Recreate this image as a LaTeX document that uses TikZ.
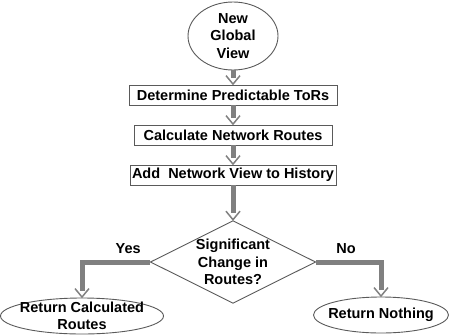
\documentclass[tikz,border=0pt]{standalone}
\usepackage{fontspec}
\setmainfont{Liberation Sans}
\usetikzlibrary{arrows.meta, positioning, shapes}
\definecolor{flowgray}{RGB}{128, 128, 128}
\definecolor{edgegray}{RGB}{90, 90, 90}

% open V head, the shaft stops at its back
\pgfdeclarearrow{
  name = Chevron,
  setup code = {
    \pgfarrowssettipend{0pt}
    \pgfarrowssetlineend{-7pt}
    \pgfarrowssetbackend{-9pt}
    \pgfarrowssetvisualbackend{-9pt}
    \pgfarrowshullpoint{0pt}{0pt}
    \pgfarrowshullpoint{-9pt}{7pt}
    \pgfarrowshullpoint{-9pt}{-7pt}
  },
  drawing code = {
    \pgfsetlinewidth{1.5pt}
    \pgfsetdash{}{0pt}
    \pgfpathmoveto{\pgfpoint{-9pt}{7pt}}
    \pgfpathlineto{\pgfpoint{-0.5pt}{0pt}}
    \pgfpathlineto{\pgfpoint{-9pt}{-7pt}}
    \pgfusepathqstroke
  }
}

\begin{document}
\begin{tikzpicture}[x=1pt, y=-1pt, node distance=40pt, font=\fontsize{14.5}{17.5}\selectfont\bfseries]
\tikzstyle{stepbox} = [rectangle, minimum height=20pt, inner sep=0pt, text centered, draw=edgegray, line width=0.8pt]
\tikzstyle{terminal} = [ellipse, inner sep=-20pt, draw=edgegray, line width=0.9pt, align=center]
\tikzstyle{decision} = [diamond, aspect=2, minimum width=158pt, minimum height=78pt, inner sep=0pt, draw=edgegray, line width=0.9pt, align=center]
\tikzstyle{arrow} = [line width=5pt, draw=flowgray, -Chevron]

\useasboundingbox (0,0) rectangle (449,335);

\node (view) [terminal, minimum width=90pt, minimum height=68pt] at (233,36) {New\\Global\\View};
\node (torbox) [stepbox, minimum width=208pt] at (233,95) {Determine Predictable ToRs};
\node (routebox) [stepbox, minimum width=198pt, below of=torbox] {Calculate Network Routes};
\node (histbox) [stepbox, minimum width=206pt, below of=routebox] {Add\ \ Network View to History};
\node (change) [decision, below of=histbox, node distance=87pt] {Significant\\Change in\\Routes?};
\node (retcalc) [terminal, minimum width=163pt, minimum height=36pt] at (82,316) {Return Calculated\\Routes};
\node (retnone) [terminal, minimum width=135pt, minimum height=36pt] at (381,315) {Return Nothing};

\draw [arrow] (view) -- (torbox);
\draw [arrow] (torbox) -- (routebox);
\draw [arrow] (routebox) -- (histbox);
\draw [arrow] (histbox) -- (change);
\draw [arrow] (change.west) -| node[pos=0.16, above=3pt] {Yes} (retcalc.north);
\draw [arrow] (change.east) -| node[pos=0.23, above=3pt] {No} (retnone.north);
\end{tikzpicture}
\end{document}
